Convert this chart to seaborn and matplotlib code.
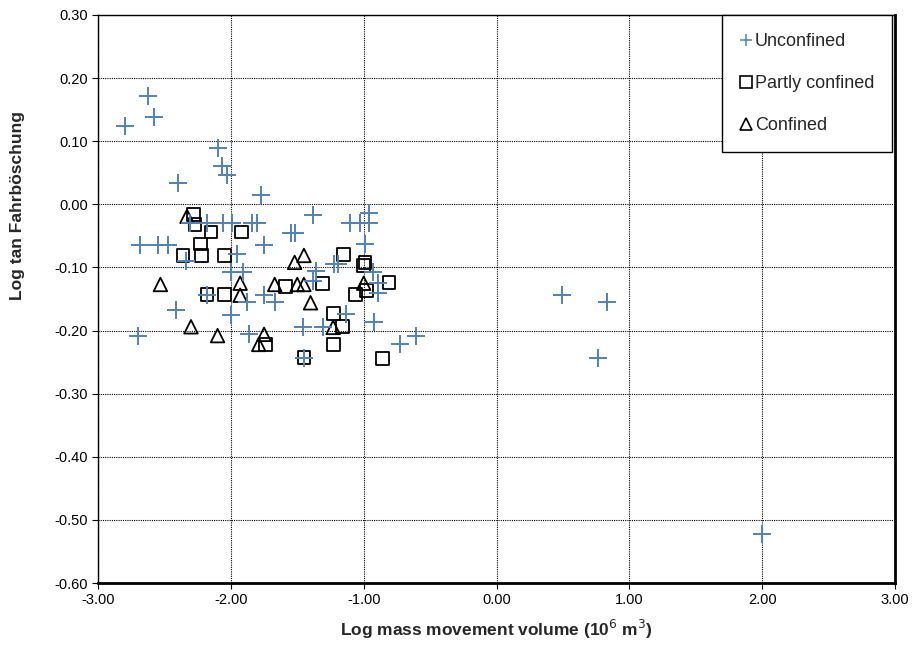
import numpy as np
import pandas as pd
import matplotlib
matplotlib.use("Agg")
import matplotlib.pyplot as plt
import seaborn as sns
from matplotlib.lines import Line2D
from matplotlib.ticker import FormatStrFormatter

# ---- data ----
unconf_x = [-2.80, -2.62, -2.58, -2.10, -2.07, -2.03, -2.40, -1.77, -1.38, -1.10,
            -0.96, -0.96, -1.03, -2.18, -2.06, -1.99, -1.84, -1.80, -2.31, -1.55,
            -1.52, -2.68, -2.55, -2.47, -1.75, -0.99, -1.95, -2.34, -1.22, -1.19,
            -2.00, -1.91, -1.36, -0.93, -1.38, -0.89, -0.89, -2.18, -1.75, -1.67,
            -1.88, -2.41, -2.00, -1.13, -0.92, -1.46, -1.31, -2.70, -1.86, -1.45,
            -0.73, -0.61, 0.49, 0.83, 0.76, 2.00]
unconf_y = [0.124, 0.171, 0.138, 0.090, 0.060, 0.046, 0.033, 0.014, -0.017, -0.030,
            -0.013, -0.030, -0.029, -0.029, -0.029, -0.029, -0.030, -0.030, -0.030, -0.046,
            -0.046, -0.065, -0.065, -0.065, -0.065, -0.063, -0.079, -0.090, -0.094, -0.094,
            -0.108, -0.108, -0.106, -0.108, -0.121, -0.124, -0.141, -0.143, -0.144, -0.154,
            -0.154, -0.167, -0.175, -0.173, -0.186, -0.194, -0.194, -0.208, -0.206, -0.243,
            -0.221, -0.208, -0.143, -0.154, -0.244, -0.522]

partly_x = [-2.28, -2.27, -2.15, -1.92, -2.23, -2.36, -2.22, -2.05, -1.15, -0.99,
            -1.00, -2.18, -2.05, -1.59, -1.31, -1.06, -0.98, -0.81, -1.23, -1.16,
            -1.23, -1.74, -1.45, -0.86]
partly_y = [-0.016, -0.032, -0.044, -0.044, -0.063, -0.081, -0.081, -0.081, -0.079, -0.092,
            -0.097, -0.143, -0.143, -0.130, -0.125, -0.143, -0.137, -0.124, -0.173, -0.194,
            -0.222, -0.222, -0.243, -0.244]

conf_x = [-2.33, -1.52, -1.45, -2.53, -1.93, -1.93, -1.67, -1.50, -1.45, -1.40,
          -1.00, -2.30, -2.10, -1.75, -1.79, -1.23]
conf_y = [-0.019, -0.092, -0.081, -0.127, -0.125, -0.144, -0.127, -0.127, -0.127, -0.156,
          -0.125, -0.194, -0.208, -0.206, -0.222, -0.195]

labels = ["Unconfined", "Partly confined", "Confined"]
x_ticks = [-3, -2, -1, 0, 1, 2, 3]
y_ticks = [-0.6, -0.5, -0.4, -0.3, -0.2, -0.1, 0.0, 0.1, 0.2, 0.3]

df = pd.concat([
    pd.DataFrame({"x": unconf_x, "y": unconf_y, "group": labels[0]}),
    pd.DataFrame({"x": partly_x, "y": partly_y, "group": labels[1]}),
    pd.DataFrame({"x": conf_x, "y": conf_y, "group": labels[2]}),
], ignore_index=True)

sns.set_style("white")
plt.rcParams["font.family"] = ["Liberation Sans", "DejaVu Sans"]

fig = plt.figure(figsize=(9.2, 6.5), dpi=100)
ax = fig.add_axes([0.1065, 0.103, 0.8665, 0.874])

blue = "#4F81BD"
ax.set_axisbelow(True)

sns.scatterplot(data=df[df.group == labels[1]], x="x", y="y", marker="s", s=85,
                facecolor="none", edgecolor="black", linewidth=1.3, ax=ax, legend=False, zorder=3)
sns.scatterplot(data=df[df.group == labels[2]], x="x", y="y", marker="^", s=95,
                facecolor="none", edgecolor="black", linewidth=1.3, ax=ax, legend=False, zorder=3)
sns.scatterplot(data=df[df.group == labels[0]], x="x", y="y", marker="+", s=170,
                color=blue, linewidth=1.4, ax=ax, legend=False, zorder=4)

ax.set_xlim(-3, 3)
ax.set_ylim(-0.6, 0.3)
ax.set_xticks(x_ticks)
ax.set_yticks(y_ticks)
ax.xaxis.set_major_formatter(FormatStrFormatter("%.2f"))
ax.yaxis.set_major_formatter(FormatStrFormatter("%.2f"))
ax.grid(True, color="black", linestyle=(0, (1, 1)), linewidth=0.8)
ax.tick_params(axis="both", direction="out", length=4, width=0.8, color="black",
               labelsize=10.5, labelcolor="black", bottom=True, left=True, pad=3)

for side in ["left", "top"]:
    ax.spines[side].set_color("black")
    ax.spines[side].set_linewidth(1.0)
for side in ["right", "bottom"]:
    ax.spines[side].set_color("black")
    ax.spines[side].set_linewidth(2.0)

ax.set_xlabel("Log mass movement volume (10$^6$ m$^3$)", fontsize=12.5, fontweight="bold",
              labelpad=8)
ax.set_ylabel("Log tan Fahrböschung", fontsize=12.5, fontweight="bold")
ax.yaxis.set_label_coords(-0.091, 0.665)

handles = [
    Line2D([], [], linestyle="none", marker="+", color=blue, markersize=9, markeredgewidth=1.1),
    Line2D([], [], linestyle="none", marker="s", markerfacecolor="none", markeredgecolor="black",
           markersize=8, markeredgewidth=1.2),
    Line2D([], [], linestyle="none", marker="^", markerfacecolor="none", markeredgecolor="black",
           markersize=8, markeredgewidth=1.2),
]
leg = ax.legend(handles, labels, loc="upper right", bbox_to_anchor=(0.9965, 1.0),
                borderaxespad=0, frameon=True, fancybox=False, fontsize=13,
                labelspacing=1.38, handlelength=0.6, handletextpad=0.2, borderpad=1.0)
leg.get_frame().set_edgecolor("black")
leg.get_frame().set_linewidth(1.0)
leg.get_frame().set_facecolor("white")
leg.get_frame().set_alpha(1)
leg.set_zorder(10)

fig.savefig("out.png", dpi=100)
